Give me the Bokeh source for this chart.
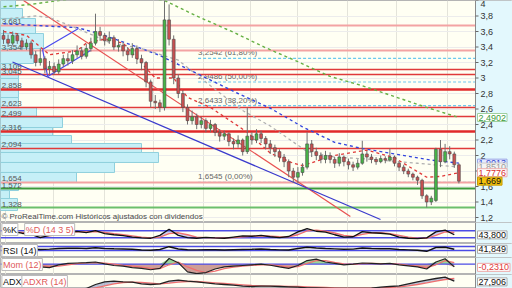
from bokeh.plotting import figure
from bokeh.layouts import column
from bokeh.models import Range1d, FixedTicker, Label
from bokeh.core.properties import value
from bokeh.embed import file_html
from bokeh.resources import INLINE

# ---------------- price data (weekly candles) ----------------
opens = [3.55,3.50,3.45,3.55,3.48,3.40,3.45,3.30,3.20,3.25,
         3.12,3.15,3.08,3.18,3.25,3.22,3.30,3.35,3.28,3.38,
         3.45,3.60,3.55,3.48,3.52,3.40,3.42,3.35,3.30,3.38,
         3.25,3.20,2.95,2.70,2.68,2.62,3.75,3.50,3.00,2.80,
         2.62,2.45,2.50,2.40,2.45,2.35,2.40,2.30,2.25,2.28,
         2.18,2.15,2.20,2.05,2.25,2.20,2.28,2.22,2.15,2.10,
         2.05,1.98,1.92,1.80,1.72,1.78,1.85,2.15,2.05,2.00,
         1.95,2.00,1.95,1.90,1.98,1.92,1.88,1.85,1.90,2.02,
         1.98,1.95,1.92,1.96,1.94,1.98,1.90,1.85,1.80,1.76,
         1.72,1.68,1.48,1.40,1.42,2.08,1.92,2.05,2.02,1.88]
highs = [3.62,3.56,3.60,3.58,3.52,3.50,3.48,3.35,3.38,3.28,
         3.22,3.20,3.24,3.30,3.32,3.36,3.42,3.40,3.44,3.52,
         3.83,3.66,3.58,3.60,3.55,3.50,3.46,3.40,3.45,3.42,
         3.30,3.22,2.98,2.78,2.72,4.00,3.95,3.55,3.05,2.84,
         2.66,2.58,2.54,2.50,2.48,2.46,2.42,2.34,2.32,2.30,
         2.22,2.26,2.22,2.62,2.30,2.34,2.32,2.25,2.20,2.14,
         2.08,2.02,1.95,1.84,1.85,1.90,2.30,2.20,2.10,2.04,
         2.06,2.04,1.98,2.03,2.00,1.96,1.92,1.95,2.19,2.06,
         2.02,1.98,2.00,1.99,2.09,2.00,1.92,1.88,1.83,1.78,
         1.74,1.70,1.50,1.48,2.10,2.20,2.15,2.12,2.05,1.90]
lows = [3.44,3.40,3.42,3.44,3.36,3.36,3.25,3.15,3.16,3.06,
        3.05,3.04,3.05,3.14,3.16,3.18,3.26,3.24,3.25,3.34,
        3.42,3.48,3.42,3.44,3.36,3.34,3.28,3.22,3.26,3.18,
        3.10,2.88,2.62,2.60,2.56,2.58,3.42,2.92,2.74,2.56,
        2.40,2.40,2.34,2.35,2.30,2.30,2.25,2.18,2.20,2.12,
        2.08,2.10,2.00,2.02,2.14,2.16,2.16,2.08,2.02,1.98,
        1.92,1.85,1.72,1.65,1.64,1.74,1.82,1.98,1.94,1.90,
        1.90,1.90,1.84,1.86,1.86,1.82,1.80,1.82,1.88,1.92,
        1.90,1.88,1.90,1.90,1.92,1.86,1.80,1.76,1.72,1.68,
        1.62,1.44,1.33,1.36,1.40,1.85,1.90,1.95,1.84,1.64]
closes = [3.50,3.45,3.55,3.48,3.40,3.45,3.30,3.20,3.25,3.12,
          3.15,3.08,3.18,3.25,3.22,3.30,3.35,3.28,3.38,3.45,
          3.60,3.55,3.48,3.52,3.40,3.42,3.35,3.30,3.38,3.25,
          3.20,2.95,2.70,2.68,2.62,3.75,3.50,3.00,2.80,2.62,
          2.45,2.50,2.40,2.45,2.35,2.40,2.30,2.25,2.28,2.18,
          2.15,2.20,2.05,2.25,2.20,2.28,2.22,2.15,2.10,2.05,
          1.98,1.92,1.80,1.72,1.78,1.85,2.15,2.05,2.00,1.95,
          2.00,1.95,1.90,1.98,1.92,1.88,1.85,1.90,2.02,1.98,
          1.95,1.92,1.96,1.94,1.98,1.90,1.85,1.80,1.76,1.72,
          1.68,1.48,1.40,1.45,2.08,1.92,2.05,2.02,1.88,1.669]
candle_idx = list(range(len(closes)))
last_price = 1.669

# moving averages (read at sample points)
ma20_x = [0, 5, 10, 16, 18, 22, 26, 30, 33, 37, 40, 45, 53, 58, 63, 65, 72, 79, 85, 92, 95, 99]
ma20_y = [3.60, 3.55, 3.30, 3.35, 3.45, 3.50, 3.45, 3.19, 3.00, 3.00, 2.75, 2.62, 2.30, 2.03, 1.90, 1.87, 2.00, 2.07, 1.97, 1.72, 1.73, 1.7776]
ma50_x = [0, 7, 10, 16, 23, 30, 38, 45, 52, 58, 66, 72, 80, 90, 99]
ma50_y = [3.76, 3.80, 3.78, 3.64, 3.46, 3.38, 3.23, 2.90, 2.58, 2.38, 2.05, 1.98, 1.95, 1.90, 1.851]
ma100_x = [0, 16, 21, 30, 34, 42, 51, 58, 65, 72, 78, 93, 99]
ma100_y = [3.70, 3.65, 3.57, 3.38, 3.29, 3.06, 2.80, 2.61, 2.37, 2.17, 2.09, 1.94, 1.9013]
ma200_x = [0, 6, 12, 20, 30, 35, 42, 50, 57, 64, 71, 78, 85, 92, 99]
ma200_y = [3.92, 3.95, 4.00, 4.05, 4.05, 4.00, 3.80, 3.59, 3.39, 3.21, 3.02, 2.90, 2.76, 2.62, 2.4902]

# support / resistance levels
level_values = [3.681, 3.354, 3.109, 3.045, 2.858, 2.623, 2.499, 2.316, 2.094, 1.654, 1.572, 1.328]
level_labels = ["3,681", "3,354", "3,109", "3,045", "2,858", "2,623", "2,499", "2,316", "2,094", "1,654", "1,572", "1,328"]
level_kind = ["weak", "weak", "res", "res", "strong", "res", "res", "strong", "res", "weak", "sup", "sup2"]

# fibonacci retracement
fib_values = [3.2542, 2.9486, 2.6433, 1.6545]
fib_labels = ["3,2542 (61,80%)", "2,9486 (50,00%)", "2,6433 (38,20%)", "1,6545 (0,00%)"]
fib_from = 42.3

# trend lines (candle index, price)
trend_red_x, trend_red_y = [4.35, 75.4], [4.0, 1.213]
trend_blue_x, trend_blue_y = [1.96, 81.96], [3.206, 1.174]
chan_up_x, chan_up_y = [8.5, 16.3], [3.368, 3.639]
chan_lo_x, chan_lo_y = [9.6, 18.9], [3.019, 3.355]

# volume profile (price bands and relative volume)
vp_top = [4.0, 3.897, 3.768, 3.574, 3.381, 3.187, 2.994, 2.748, 2.619, 2.490, 2.361, 2.258, 2.155, 2.039, 1.910, 1.781, 1.652, 1.548, 1.445]
vp_bot = [3.897, 3.768, 3.574, 3.381, 3.187, 2.994, 2.748, 2.619, 2.490, 2.361, 2.258, 2.155, 2.039, 1.910, 1.781, 1.652, 1.548, 1.445, 1.290]
vp_volume = [15, 22, 35, 43, 33, 18, 18, 18, 36, 62, 52, 71, 141, 158, 114, 76, 18, 9, 17]

# price axis
y_ticks = [1.2, 1.4, 1.6, 1.8, 2.0, 2.2, 2.4, 2.6, 2.8, 3.0, 3.2, 3.4, 3.6, 3.8, 4.0]
y_tick_labels = ["1,2", "1,4", "1,6", "1,8", "2", "2,2", "2,4", "2,6", "2,8", "3", "3,2", "3,4", "3,6", "3,8", "4"]
date_grid_idx = [0.4, 10.9, 22.0, 32.6, 43.5, 53.7, 63.9, 74.8, 85.4, 96.5]

# ---------------- indicators (every 2nd candle) ----------------
ind_x = list(range(0, 100, 2))
stoch_k = [65,72,58,48,20,40,62,70,74,64,80,55,45,38,25,18,15,40,92,40,
           20,15,22,18,15,25,35,32,40,28,20,30,70,98,75,68,45,25,28,72,
           62,58,50,25,15,12,18,70,85,45]
stoch_d = [62,68,65,55,38,35,48,62,70,70,72,66,55,45,35,25,18,25,55,62,
           45,25,20,19,17,20,28,32,36,34,28,26,45,78,85,75,60,40,30,48,
           62,62,55,40,25,16,15,40,70,66]
rsi = [55,52,50,45,40,44,50,52,54,50,58,50,47,45,42,35,32,40,68,45,
       38,36,38,37,35,38,40,42,45,40,36,35,50,63,55,50,46,42,44,55,
       50,48,47,40,36,32,22,60,62,42]
mom = [0.05,-0.05,0.02,-0.10,-0.20,-0.25,-0.05,0.05,0.08,0.10,
       0.15,0.02,-0.10,-0.15,-0.25,-0.30,-0.40,-0.30,0.40,0.10,
       -0.55,-0.68,-0.60,-0.35,-0.20,-0.15,-0.10,-0.05,0.00,-0.08,
       -0.20,-0.30,-0.10,0.25,0.35,0.15,0.05,-0.05,0.00,0.08,
       0.05,0.02,0.05,-0.05,-0.12,-0.20,-0.35,0.15,0.38,-0.20]
mom_sig = [0.03,0.00,-0.01,-0.03,-0.10,-0.18,-0.15,-0.05,0.03,0.08,
           0.10,0.08,0.00,-0.08,-0.15,-0.22,-0.30,-0.33,-0.05,0.15,
           -0.20,-0.45,-0.60,-0.50,-0.32,-0.22,-0.15,-0.10,-0.05,-0.05,
           -0.12,-0.22,-0.18,0.05,0.25,0.25,0.12,0.02,-0.02,0.03,
           0.05,0.04,0.03,0.00,-0.08,-0.15,-0.25,-0.05,0.25,0.10]
adx = [2,2,3,3,3,2,2,2,3,8,20,28,30,28,27,22,20,22,30,33,
       30,28,25,22,20,18,15,14,15,15,14,13,12,10,10,9,8,8,8,8,
       9,12,14,16,22,28,33,38,42,30]
adxr = [3,3,3,3,3,3,3,3,3,5,10,16,22,26,27,26,24,22,24,27,
        29,29,27,25,23,21,19,17,16,15,15,14,14,13,12,11,10,9,9,9,
        9,10,11,13,16,20,25,30,35,38]
last_stoch, last_rsi, last_mom, last_adx = 43.800, 41.849, -0.2310, 27.906

# ---------------- styling ----------------
W = 512
PX = 4.6                      # pixels per candle
BG = "#fffff3"
AX_BG = "#e3f8fd"
FONT = "Liberation Sans"
X0 = -0.65
XA = X0 + 475 / PX            # price-axis line
XR = X0 + W / PX              # right edge of the picture


def base_fig(h, y0, y1):
    f = figure(width=W, height=h, x_range=Range1d(X0, XR), y_range=Range1d(y0, y1),
               toolbar_location=None, output_backend="svg",
               x_axis_location=None, y_axis_location=None,
               min_border_left=0, min_border_right=0, min_border_top=0, min_border_bottom=0,
               background_fill_color=BG, border_fill_color=AX_BG, outline_line_color="#b4b4b4")
    f.xgrid.ticker = FixedTicker(ticks=date_grid_idx)
    f.xgrid.grid_line_color = "#e4e4da"
    f.ygrid.grid_line_color = None
    return f


def axis_area(f, y0, y1):
    f.quad(left=XA, right=XR, bottom=y0, top=y1, fill_color=AX_BG, line_color=None)
    f.vspan(x=[XA], line_color="#8a8a8a", line_width=1)


def badges(f, ys, txts, tcols, bgs, bcols):
    f.text(x=[XA + 2 / PX] * len(ys), y=ys, text=txts, text_font=value(FONT), text_font_size="9px",
           text_color=tcols, text_baseline="middle", text_align="left",
           background_fill_color=bgs, border_line_color=bcols, padding=1)


def title(f, xv, yv, txt, col):
    f.add_layout(Label(x=xv, y=yv, text=txt, text_font=FONT, text_font_size="9px", text_color=col,
                       text_baseline="top", background_fill_color="#ffffff",
                       border_line_color="#bbbbbb", padding=1, y_offset=-1))


# ---------------- main price panel ----------------
Y_LO = 4.0 - 222 / 77.5
main = base_fig(222, Y_LO, 4.0)
main.extra_x_ranges = {"vp": Range1d(0, W)}
main.ygrid.ticker = FixedTicker(ticks=y_ticks)
main.ygrid.grid_line_color = "#ececec"

vp_mid = [(a + b) / 2 for a, b in zip(vp_top, vp_bot)]
vp_h = [a - b for a, b in zip(vp_top, vp_bot)]
main.hbar(y=vp_mid, height=vp_h, left=0, right=vp_volume, x_range_name="vp",
          fill_color="#c6eff7", line_color="#8fd0dd", line_width=1)

main.segment(x0=[fib_from] * len(fib_values), y0=fib_values, x1=[XA] * len(fib_values), y1=fib_values,
             line_color="#6cc8ee", line_width=1.2, line_dash="3 2")
main.text(x=[fib_from] * len(fib_labels), y=fib_values, text=fib_labels, text_font=value(FONT),
          text_font_size="8px", text_color="#666666", text_baseline="bottom", y_offset=-1)

kind_style = {"weak": ("#f3a3a3", 2.0), "res": ("#e03a3a", 1.3), "strong": ("#e02a2a", 2.5),
              "sup": ("#3c9a3c", 1.8), "sup2": ("#6cbf6c", 1.8)}
for k, (col, lw) in kind_style.items():
    ys = [v for v, kk in zip(level_values, level_kind) if kk == k]
    main.hspan(y=ys, line_color=col, line_width=lw)
main.text(x=[X0 + 0.25] * len(level_values), y=level_values, text=level_labels, text_font=value(FONT),
          text_font_size="8px", text_color="#555555", text_baseline="bottom", y_offset=-1)

main.line(trend_red_x, trend_red_y, line_color="#e85050", line_width=1.2)
main.line(trend_blue_x, trend_blue_y, line_color="#3a3acc", line_width=1.2)
main.line(chan_up_x, chan_up_y, line_color="#4a4aee", line_width=1.2)
main.line(chan_lo_x, chan_lo_y, line_color="#4a4aee", line_width=1.2)
main.line([chan_up_x[0], chan_lo_x[0]], [chan_up_y[0], chan_lo_y[0]], line_color="#4a4aee", line_width=1.2)

main.line(ma200_x, ma200_y, line_color="#66b044", line_width=1.4, line_dash="3 3")
main.line(ma100_x, ma100_y, line_color="#3346dd", line_width=1.4, line_dash="3 3")
main.line(ma50_x, ma50_y, line_color="#b0b0b0", line_width=1.3, line_dash="3 3")
main.line(ma20_x, ma20_y, line_color="#e03838", line_width=1.3, line_dash="3 3")

main.segment(x0=candle_idx, y0=highs, x1=candle_idx, y1=lows, line_color="#707070", line_width=1)
up = [i for i in candle_idx if closes[i] >= opens[i]]
dn = [i for i in candle_idx if closes[i] < opens[i]]
main.vbar(x=up, width=0.62, top=[closes[i] for i in up], bottom=[opens[i] for i in up],
          fill_color="#46b446", line_color="#4a4a4a", line_width=0.6)
main.vbar(x=dn, width=0.62, top=[opens[i] for i in dn], bottom=[closes[i] for i in dn],
          fill_color="#c85050", line_color="#4a4a4a", line_width=0.6)

main.add_layout(Label(x=X0 + 0.2, y=1.21, text="© ProRealTime.com  Históricos ajustados con dividendos",
                      text_font=FONT, text_font_size="8px", text_color="#4a4a4a", text_baseline="middle"))

# price axis (right)
axis_area(main, Y_LO, 4.0)
main.segment(x0=[XA] * len(y_ticks), y0=y_ticks, x1=[XA + 3 / PX] * len(y_ticks), y1=y_ticks,
             line_color="#666666", line_width=1)
main.text(x=[XA + 5 / PX] * (len(y_ticks) - 1), y=y_ticks[:-1], text=y_tick_labels[:-1], text_font=value(FONT),
          text_font_size="9px", text_color="#333333", text_baseline="middle", text_align="left")
main.text(x=[XA + 5 / PX], y=y_ticks[-1:], text=y_tick_labels[-1:], text_font=value(FONT),
          text_font_size="9px", text_color="#333333", text_baseline="top", text_align="left")
badges(main,
       [ma200_y[-1], ma100_y[-1], ma50_y[-1], ma20_y[-1], last_price],
       ["2,4902", "1,9013", "1,8510", "1,7776", "1,669"],
       ["#3a9a3a", "#3346cc", "#9a9a9a", "#d83030", "#111111"],
       ["#ffffff", "#e6ebff", "#f4f4f4", "#ffffff", "#f4c20d"],
       ["#9fd09f", "#9aa6e6", "#cccccc", "#eeaaaa", "#c89a00"])

# ---------------- stochastic ----------------
st = base_fig(21, -30, 150)
st.varea(x=ind_x, y1=stoch_k, y2=stoch_d, fill_color="#8f8fe0", fill_alpha=0.45)
st.segment(x0=[X0, X0], y0=[80, 20], x1=[XA, XA], y1=[80, 20], line_color="#4c4ce6", line_width=1.5)
st.line(ind_x, stoch_d, line_color="#f07070", line_width=1.3)
st.line(ind_x, stoch_k, line_color="#111111", line_width=1.3)
axis_area(st, -30, 150)
title(st, X0 + 0.3, 150, "%K", "#111111")
title(st, 4.6, 150, "%D (14 3 5)", "#e05a5a")
badges(st, [last_stoch], ["43,800"], ["#111111"], ["#ffffff"], ["#aaaaaa"])

# ---------------- RSI ----------------
rs = base_fig(14, -40, 100)
rs.segment(x0=[X0, X0], y0=[70, 30], x1=[XA, XA], y1=[70, 30], line_color="#4c4ce6", line_width=1.5)
rs.line(ind_x, rsi, line_color="#111111", line_width=1.4)
axis_area(rs, -40, 100)
title(rs, X0 + 0.3, 100, "RSI (14)", "#111111")
badges(rs, [last_rsi], ["41,849"], ["#111111"], ["#ffffff"], ["#aaaaaa"])

# ---------------- Momentum ----------------
mo = base_fig(17, -0.74, 0.47)
mom_pos = [m if m > 0 else 0 for m in mom]
mom_neg = [m if m < 0 else 0 for m in mom]
mo.varea(x=ind_x, y1=[0] * len(mom), y2=mom_pos, fill_color="#8fd08f", fill_alpha=0.9)
mo.varea(x=ind_x, y1=[0] * len(mom), y2=mom_neg, fill_color="#c9938c", fill_alpha=0.9)
mo.segment(x0=[X0], y0=[0], x1=[XA], y1=[0], line_color="#4c4ce6", line_width=1.3)
mo.line(ind_x, mom_sig, line_color="#f07070", line_width=1.2)
mo.line(ind_x, mom, line_color="#222222", line_width=1.2)
axis_area(mo, -0.74, 0.47)
title(mo, X0 + 0.3, 0.47, "Mom (12)", "#e05a5a")
badges(mo, [last_mom], ["-0,2310"], ["#e03a3a"], ["#ffffff"], ["#eeaaaa"])

# ---------------- ADX ----------------
ad = base_fig(14, 8, 50)
ad.varea(x=ind_x, y1=adx, y2=adxr, fill_color="#8a96c0", fill_alpha=0.6)
ad.line(ind_x, adxr, line_color="#f07070", line_width=1.3)
ad.line(ind_x, adx, line_color="#222222", line_width=1.3)
axis_area(ad, 8, 50)
title(ad, X0 + 0.3, 50, "ADX", "#111111")
title(ad, 4.0, 50, "ADXR (14)", "#e05a5a")
badges(ad, [last_adx], ["27,906"], ["#111111"], ["#ffffff"], ["#aaaaaa"])

layout = column(main, st, rs, mo, ad, spacing=0)
open("out.html", "w").write(file_html(layout, INLINE))
